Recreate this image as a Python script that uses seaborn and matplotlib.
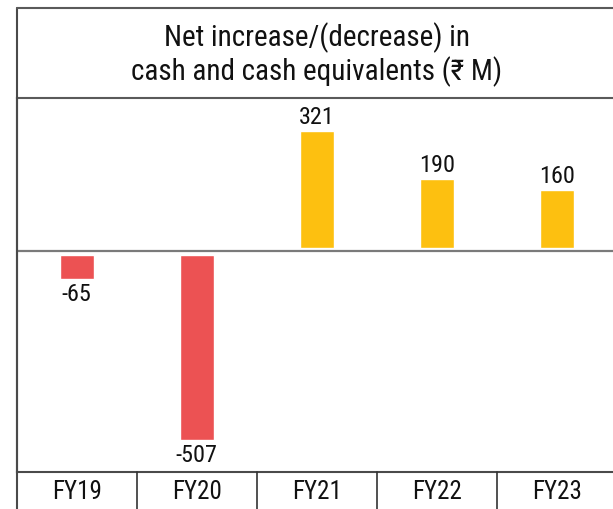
import matplotlib
matplotlib.use("Agg")
import matplotlib.pyplot as plt
import matplotlib.transforms as mtransforms
from matplotlib.lines import Line2D
from matplotlib import font_manager
import seaborn as sns
import pandas as pd

# ---- data ----
categories = ["FY19", "FY20", "FY21", "FY22", "FY23"]
values = [-65, -507, 321, 190, 160]
value_labels = ["-65", "-507", "321", "190", "160"]
title_lines = ["Net increase/(decrease) in", "cash and cash equivalents (₹ M)"]

RED = "#EC5253"
YELLOW = "#FDC010"

sns.set_theme(style="white")
installed = {f.name for f in font_manager.fontManager.ttflist}
main_font = "Lato"
for cand in ["Liberation Sans Narrow", "Roboto Condensed", "Open Sans Condensed",
             "Noto Sans Condensed", "Lato"]:
    if cand in installed:
        main_font = cand
        break
plt.rcParams["font.family"] = [main_font, "Noto Sans", "DejaVu Sans"]

W, H = 613, 509
fig = plt.figure(figsize=(W / 100, H / 100), dpi=100)
fig.patch.set_facecolor("white")


def fx(px):
    return px / W


def fy(py):
    return 1 - py / H


left_px, right_px = 16.7, 616.7
top_px, bottom_px = 98, 472
ax = fig.add_axes([fx(left_px), fy(bottom_px), (right_px - left_px) / W, (bottom_px - top_px) / H])

df = pd.DataFrame({
    "cat": categories,
    "val": values,
    "sign": ["neg" if v < 0 else "pos" for v in values],
})
sns.barplot(data=df, x="cat", y="val", hue="sign", palette={"neg": RED, "pos": YELLOW},
            width=0.283, dodge=False, legend=False, ax=ax, saturation=1, order=categories)
bars = list(ax.patches)

ax.set_xlim(-0.5, len(categories) - 0.5)
ax.set_ylim(-607, 420)

# bars start a little away from the zero line (small gap on both sides)
POS_GAP, NEG_GAP = 8, 11
lab_map = dict(zip(categories, value_labels))
for p in bars:
    h = p.get_height()
    if h != h or h == 0:
        continue
    xc = p.get_x() + p.get_width() / 2
    cat = categories[int(round(xc))]
    if h > 0:
        p.set_y(POS_GAP)
        end = POS_GAP + h
        ax.annotate(lab_map[cat], (xc, end), xytext=(0, 5), textcoords="offset points",
                    ha="center", va="baseline", fontsize=17.5, color="#111111")
    else:
        p.set_y(-NEG_GAP)
        end = -NEG_GAP + h
        ax.annotate(lab_map[cat], (xc, end), xytext=(0, -3), textcoords="offset points",
                    ha="center", va="top", fontsize=17.5, color="#111111")

ax.axhline(0, color="#7a7a7a", lw=1.6, zorder=4)

ax.set_yticks([])
ax.set_xlabel("")
ax.set_ylabel("")
ax.tick_params(axis="x", length=0, pad=5.5, labelsize=18, colors="#111111")
ax.spines["right"].set_visible(False)
for s in ["left", "bottom", "top"]:
    ax.spines[s].set_color("#4a4a4a")
    ax.spines[s].set_linewidth(1.5)
ax.spines["top"].set_color("#5a5a5a")

# separators between category labels
trans = mtransforms.blended_transform_factory(ax.transData, fig.transFigure)
for i in range(len(categories) - 1):
    fig.add_artist(Line2D([i + 0.5, i + 0.5], [0, fy(bottom_px)], transform=trans,
                          color="#333333", lw=1.2))

# outer frame: left border and top border
fig.add_artist(Line2D([fx(left_px), fx(left_px)], [0, fy(8)], color="#4a4a4a", lw=1.5))
fig.add_artist(Line2D([fx(left_px), 1], [fy(8), fy(8)], color="#5a5a5a", lw=1.5))

fig.text(fx((left_px + right_px) / 2), fy(55), "\n".join(title_lines), ha="center", va="center",
         fontsize=21, linespacing=1.15, color="#111111")

fig.savefig("out.png", dpi=100)
